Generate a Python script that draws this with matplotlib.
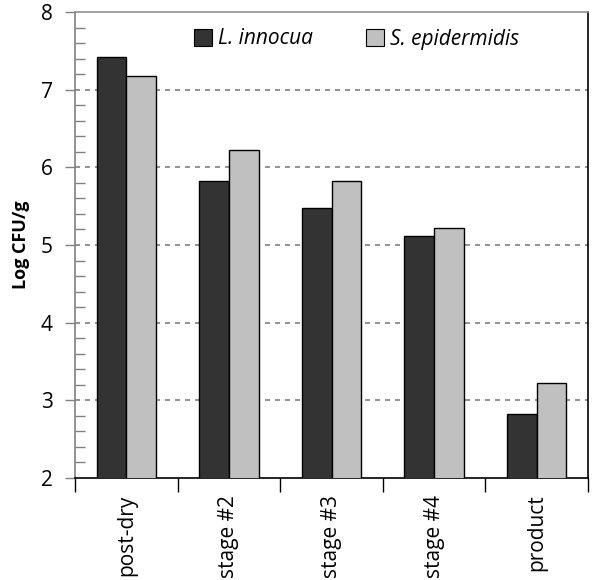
import matplotlib
matplotlib.use("Agg")
import matplotlib.pyplot as plt
import numpy as np
from matplotlib.ticker import MultipleLocator
from matplotlib.patches import Patch

categories = ["post-dry", "stage #2", "stage #3", "stage #4", "product"]
l_innocua = [7.42, 5.82, 5.47, 5.12, 2.82]
s_epidermidis = [7.17, 6.22, 5.82, 5.22, 3.22]
series_names = ["L. innocua", "S. epidermidis"]
colors = ["#333333", "#c0c0c0"]

plt.rcParams["font.family"] = ["Open Sans", "DejaVu Sans"]

fig = plt.figure(figsize=(5.92, 5.80), dpi=100)
ax = fig.add_axes([75 / 592, 1 - 478 / 580, (588 - 75) / 592, (478 - 12) / 580])

x = np.arange(len(categories))
w = 0.29
ax.bar(x - w / 2, l_innocua, width=w, bottom=0, color=colors[0], edgecolor="black",
       linewidth=1.0, zorder=3)
ax.bar(x + w / 2, s_epidermidis, width=w, bottom=0, color=colors[1], edgecolor="black",
       linewidth=1.0, zorder=3)

ax.set_xlim(-0.5, len(categories) - 0.5)
ax.set_ylim(2, 8)

# y axis: major every 1, minor every 0.2
ax.yaxis.set_major_locator(MultipleLocator(1))
ax.yaxis.set_minor_locator(MultipleLocator(0.2))
ax.tick_params(axis="y", which="major", direction="out", length=7, width=1.0,
               color="#808080", labelsize=15, pad=9)
ax.tick_params(axis="y", which="minor", direction="in", length=7, width=1.0,
               color="#808080")

# x axis: ticks on category boundaries, labels centered on categories
ax.set_xticks(np.arange(len(categories) + 1) - 0.5)
ax.set_xticklabels([])
ax.set_xticks(x, minor=True)
ax.set_xticklabels(categories, minor=True, rotation=90, fontsize=15)
ax.tick_params(axis="x", which="major", direction="out", length=10, width=1.0, color="black")
ax.tick_params(axis="x", which="minor", length=0, pad=12)

# dashed horizontal gridlines
for yv in range(3, 8):
    ax.axhline(yv, color="#808080", linestyle=(0, (3, 3)), linewidth=1.2, zorder=1)

ax.spines["left"].set_color("#808080")
ax.spines["top"].set_color("#909090")
ax.spines["right"].set_color("black")
ax.spines["bottom"].set_color("black")
for s in ax.spines.values():
    s.set_linewidth(1.2)

ax.set_ylabel("Log CFU/g", fontsize=13, fontweight="bold", labelpad=8)

handles = [Patch(facecolor=colors[0], edgecolor="black", linewidth=0.8),
           Patch(facecolor=colors[1], edgecolor="black", linewidth=0.8)]
leg = ax.legend(handles, series_names, ncol=2, loc="center left",
                bbox_to_anchor=((194 - 75) / 513, 1 - (39 - 12) / 466),
                frameon=False, handlelength=0.85, handleheight=0.85,
                handletextpad=0.3, columnspacing=2.55, borderaxespad=0, borderpad=0,
                prop={"size": 15, "style": "italic"})

fig.savefig("out.png", dpi=100)
